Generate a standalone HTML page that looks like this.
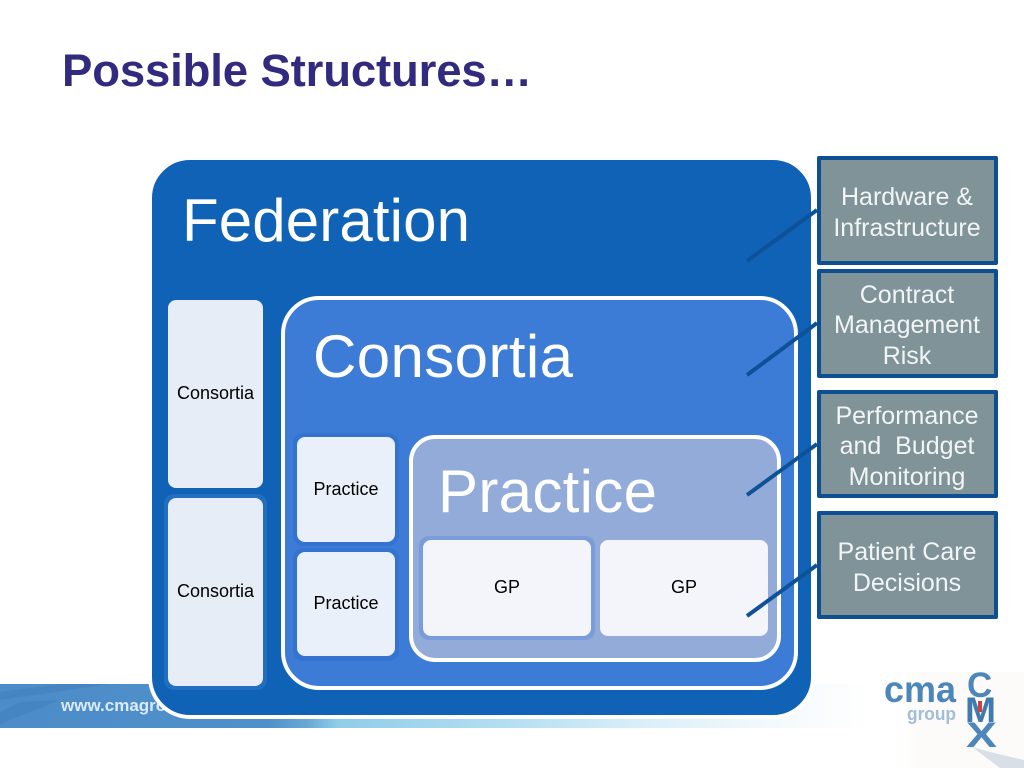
<!DOCTYPE html>
<html lang="en">
<head>
<meta charset="utf-8">
<title>Possible Structures</title>
<style>
html,body{margin:0;padding:0;background:#fff}
svg{display:block}
text{font-family:"Liberation Sans",Arial,sans-serif}
</style>
</head>
<body>
<svg width="1024" height="768" viewBox="0 0 1024 768" xmlns="http://www.w3.org/2000/svg">
<defs>
<linearGradient id="band" x1="0" y1="0" x2="1024" y2="0" gradientUnits="userSpaceOnUse">
<stop offset="0" stop-color="#4c8cc8"/>
<stop offset=".26" stop-color="#4f8fca"/>
<stop offset=".30" stop-color="#6aa8d6"/>
<stop offset=".33" stop-color="#8fcdea"/>
<stop offset=".5" stop-color="#b5dff2"/>
<stop offset=".62" stop-color="#d8eef8"/>
<stop offset=".75" stop-color="#f3f9fc"/>
<stop offset=".85" stop-color="#ffffff"/>
</linearGradient>
<linearGradient id="logoBg" x1="0" y1="0" x2="1" y2="0">
<stop offset="0" stop-color="#fff" stop-opacity="0"/>
<stop offset=".25" stop-color="#fcfbf9"/>
<stop offset="1" stop-color="#fcfbf9"/>
</linearGradient>
</defs>
<rect width="1024" height="768" fill="#fff"/>

<text x="62" y="86" font-size="45.500" font-weight="bold" fill="#322a7e" textLength="470">Possible Structures…</text>

<!-- footer -->
<rect x="0" y="684" width="1024" height="44" fill="url(#band)"/>
<path d="M0 700 L110 684 L60 684 L0 692Z M0 724 L60 700 L20 702 L0 712Z" fill="#3f7db9" opacity=".45"/>
<text x="61" y="711" font-size="17" font-weight="bold" fill="#dcebf7">www.cmagroup.co.uk</text>
<rect x="885" y="672" width="139" height="96" fill="url(#logoBg)"/>

<!-- logo -->
<text x="884" y="702" font-size="37" font-weight="bold" fill="#4d86b8" textLength="72" lengthAdjust="spacingAndGlyphs">cma</text>
<text x="907" y="720" font-size="18" font-weight="bold" fill="#a3bdd5" textLength="49" lengthAdjust="spacingAndGlyphs">group</text>
<path d="M972 747 L990 752 L1024 760 L1024 768 L1000 768Z" fill="#c9d3de" opacity=".7"/>
<text x="967" y="697" font-size="35" font-weight="bold" fill="#4d86b8">C</text>
<text x="965" y="722" font-size="35" font-weight="bold" fill="#4279ae" textLength="31" lengthAdjust="spacingAndGlyphs">M</text>
<text x="966" y="747" font-size="35" font-weight="bold" fill="#4d86b8" textLength="31" lengthAdjust="spacingAndGlyphs">X</text>
<rect x="978" y="701" width="4" height="11" fill="#d04040"/>

<!-- federation -->
<rect x="150" y="158" width="663" height="559" rx="40" fill="#0f62b6" stroke="#fff" stroke-width="4"/>
<text x="182" y="241" font-size="60" fill="#fff" textLength="288">Federation</text>

<!-- consortia small -->
<rect x="168" y="300" width="95" height="188" rx="8" fill="#e6edf7"/>
<text x="215.500" y="399" font-size="18" fill="#000" text-anchor="middle">Consortia</text>
<rect x="164" y="494" width="103" height="196" rx="10" fill="#2f76c8" opacity=".6"/>
<rect x="168" y="498" width="95" height="188" rx="8" fill="#e6edf7"/>
<text x="215.500" y="597" font-size="18" fill="#000" text-anchor="middle">Consortia</text>

<!-- consortia big -->
<rect x="283" y="298" width="513" height="390" rx="36" fill="#3d7cd6" stroke="#fff" stroke-width="4"/>
<text x="313" y="377" font-size="60" fill="#fff" textLength="260">Consortia</text>

<!-- practice small -->
<rect x="293" y="433" width="106" height="113" rx="10" fill="#2f6fcb" opacity=".6"/>
<rect x="297" y="437" width="98" height="105" rx="8" fill="#eaf0f9"/>
<text x="346" y="495" font-size="18" fill="#000" text-anchor="middle">Practice</text>
<rect x="293" y="548" width="106" height="113" rx="10" fill="#2f6fcb" opacity=".6"/>
<rect x="297" y="552" width="98" height="104" rx="8" fill="#eaf0f9"/>
<text x="346" y="609" font-size="18" fill="#000" text-anchor="middle">Practice</text>

<!-- practice big -->
<rect x="411" y="437" width="368" height="223" rx="24" fill="#92abd9" stroke="#fff" stroke-width="4"/>
<text x="438" y="512" font-size="60" fill="#fff" textLength="219">Practice</text>

<!-- GP -->
<rect x="419" y="536" width="176" height="104" rx="10" fill="#7a9cdb"/>
<rect x="423" y="540" width="168" height="96" rx="8" fill="#f3f5fa"/>
<text x="507" y="593" font-size="18" fill="#000" text-anchor="middle">GP</text>
<rect x="600" y="540" width="168" height="96" rx="8" fill="#f3f5fa"/>
<text x="684" y="593" font-size="18" fill="#000" text-anchor="middle">GP</text>

<!-- connectors -->
<g stroke="#0d5297" stroke-width="4" fill="none">
<line x1="747" y1="261" x2="817" y2="210"/>
<line x1="747" y1="375" x2="817" y2="323"/>
<line x1="747" y1="495" x2="817" y2="444"/>
<line x1="747" y1="616" x2="817" y2="565"/>
</g>

<!-- side boxes -->
<g fill="#7f9399" stroke="#0d4f91" stroke-width="4" stroke-linejoin="round">
<rect x="819" y="158" width="177" height="105"/>
<rect x="819" y="271" width="177" height="105"/>
<rect x="819" y="392" width="177" height="104"/>
<rect x="819" y="513" width="177" height="104"/>
</g>
<g font-size="25" fill="#f2f5f5" text-anchor="middle">
<text x="907" y="205">Hardware &amp;</text>
<text x="907" y="236">Infrastructure</text>
<text x="907" y="303">Contract</text>
<text x="907" y="333">Management</text>
<text x="907" y="364">Risk</text>
<text x="907" y="424">Performance</text>
<text x="907" y="454" xml:space="preserve" style="white-space:pre">and  Budget</text>
<text x="907" y="485">Monitoring</text>
<text x="907" y="560">Patient Care</text>
<text x="907" y="591">Decisions</text>
</g>
</svg>
</body>
</html>
